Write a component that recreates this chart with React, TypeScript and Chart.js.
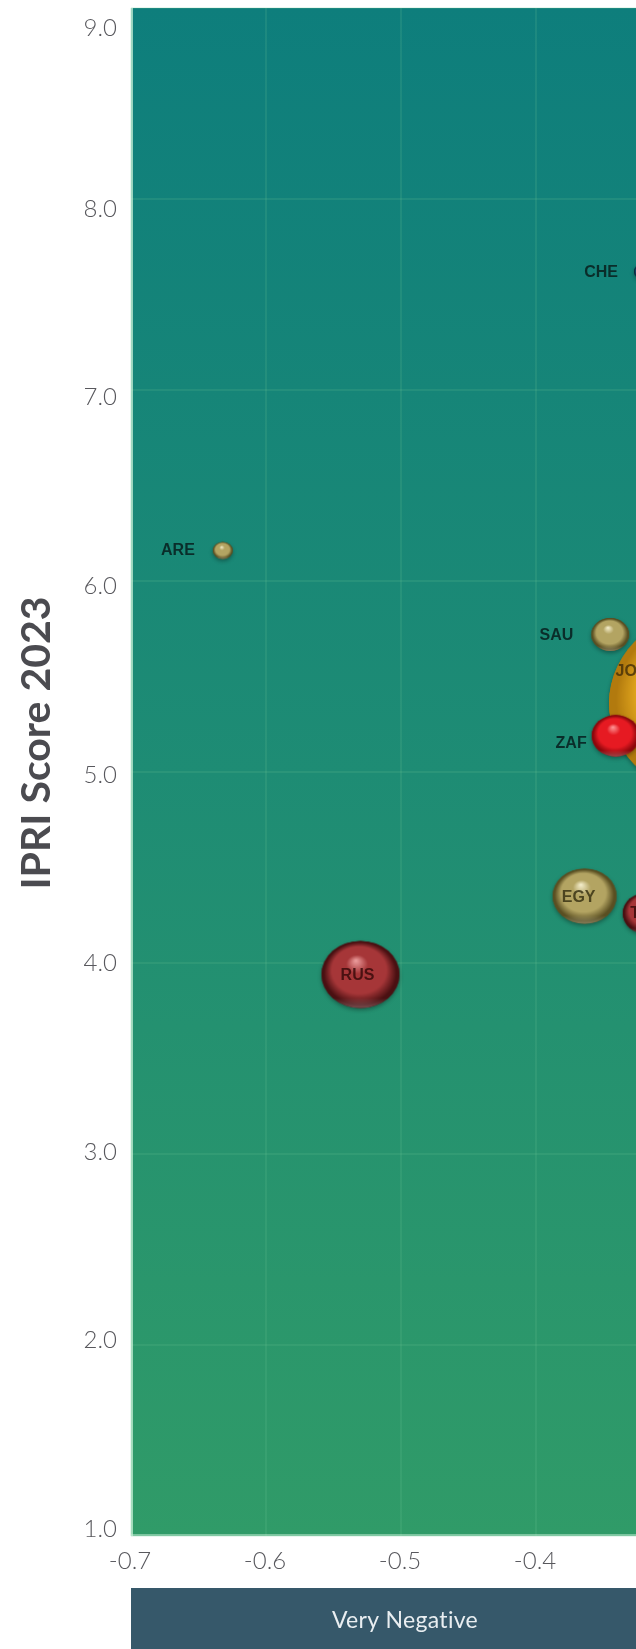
import React, { useEffect, useRef } from "react";
import { Chart, registerables } from "chart.js";

Chart.register(...registerables);

// ---- data ----
const countries = ["JOR", "ARE", "CHE", "SAU", "ZAF", "EGY", "TUR", "RUS"];
const perceptionScores = [-0.263, -0.632, -0.32, -0.345, -0.341, -0.364, -0.318, -0.53];
const ipriScores = [5.36, 6.16, 7.62, 5.72, 5.19, 4.35, 4.26, 3.94];
const bubbleRadius = [112, 10, 10, 19, 24, 32, 24, 39];
const regionGroup = ["jor", "gold", "blue", "gold", "red", "gold", "darkred", "darkred"];

const xMin = -0.7;
const xMax = -0.2;
const yMin = 1;
const yMax = 9;
const xStep = 0.1;
const yStep = 1;

const bandLabels = ["Very Negative"];
const bandFrom = [-0.7];
const bandTo = [-0.3];

const yTitle = "IPRI Score 2023";

// ---- styles ----
const palettes: Record<string, { light: string; base: string; dark: string; text: string }> = {
  gold: { light: "#f6f0cf", base: "#b3a462", dark: "#5a4f22", text: "#3a3414" },
  red: { light: "#ff9a9a", base: "#e61a22", dark: "#8c070c", text: "#3a0506" },
  darkred: { light: "#eea0a0", base: "#a63638", dark: "#4a1012", text: "#3a0a0b" },
  jor: { light: "#f8d870", base: "#e4a91f", dark: "#b27a0e", text: "#4a3308" },
  blue: { light: "#7fb0d6", base: "#1f5f8c", dark: "#0b2a40", text: "#0b2a2a" },
};
// label placement: [dx, dy, align, inside]
const labelPlacement: [number, number, CanvasTextAlign, boolean][] = [
  [-89, -32, "center", true],
  [-28, 0, "right", false],
  [-26, 1, "right", false],
  [-37, 1, "right", false],
  [-29, 8, "right", false],
  [-6, 1, "center", true],
  [0, 0, "center", true],
  [-3, 1, "center", true],
];
const ASPECT = 1.16;
const FONT_AXIS = "Lato, 'Open Sans', sans-serif";

function makeBall(rx: number, ry: number, pal: { light: string; base: string; dark: string }) {
  const pad = 6;
  const c = document.createElement("canvas");
  c.width = Math.ceil(2 * rx + 2 * pad);
  c.height = Math.ceil(2 * ry + 2 * pad);
  const g = c.getContext("2d")!;
  g.translate(c.width / 2, c.height / 2);
  g.save();
  g.shadowColor = "rgba(0,0,0,0.35)";
  g.shadowBlur = 4;
  g.shadowOffsetY = 2;
  g.beginPath();
  g.ellipse(0, 0, rx, ry, 0, 0, Math.PI * 2);
  g.fillStyle = pal.dark;
  g.fill();
  g.restore();
  g.save();
  g.scale(1, ry / rx);
  const grad = g.createRadialGradient(-0.12 * rx, -0.42 * rx, 0, 0, 0, rx);
  grad.addColorStop(0, pal.light);
  grad.addColorStop(0.28, pal.base);
  grad.addColorStop(0.7, pal.base);
  grad.addColorStop(0.93, pal.dark);
  grad.addColorStop(1, pal.dark);
  g.beginPath();
  g.arc(0, 0, rx, 0, Math.PI * 2);
  g.fillStyle = grad;
  g.fill();
  const rim = g.createLinearGradient(0, rx * 0.7, 0, rx);
  rim.addColorStop(0, "rgba(255,255,255,0)");
  rim.addColorStop(1, "rgba(255,255,255,0.25)");
  g.fillStyle = rim;
  g.fill();
  g.restore();
  return c;
}

export default function App() {
  const ref = useRef<HTMLCanvasElement>(null);

  useEffect(() => {
    document.body.style.margin = "0";
    const canvas = ref.current!;
    const images = bubbleRadius.map((r, i) => makeBall(r, r / ASPECT, palettes[regionGroup[i]]));

    const backgroundPlugin = {
      id: "bg",
      beforeDraw(chart: any) {
        const { ctx, chartArea: a } = chart;
        ctx.save();
        const grad = ctx.createLinearGradient(0, a.top, 0, a.bottom);
        grad.addColorStop(0, "#0e7e7c");
        grad.addColorStop(0.5, "#1e8c74");
        grad.addColorStop(1, "#309b68");
        ctx.fillStyle = grad;
        ctx.fillRect(a.left, a.top, a.right - a.left, a.bottom - a.top);
        ctx.restore();
      },
    };

    const labelsPlugin = {
      id: "bubbleLabels",
      afterDatasetsDraw(chart: any) {
        const { ctx } = chart;
        const meta = chart.getDatasetMeta(0);
        ctx.save();
        ctx.font = "bold 16px 'Liberation Sans', Arial, sans-serif";
        ctx.textBaseline = "middle";
        meta.data.forEach((el: any, i: number) => {
          const [dx, dy, align, inside] = labelPlacement[i];
          ctx.textAlign = align;
          ctx.fillStyle = inside ? palettes[regionGroup[i]].text : "#0a2826";
          ctx.globalAlpha = inside ? 0.85 : 0.95;
          ctx.fillText(countries[i], el.x + dx, el.y + dy);
        });
        ctx.restore();
      },
    };

    const axesPlugin = {
      id: "axesText",
      afterDraw(chart: any) {
        const { ctx, chartArea: a } = chart;
        const xs = chart.scales.x;
        const ys = chart.scales.y;
        ctx.save();
        ctx.strokeStyle = "rgba(200,240,215,0.75)";
        ctx.lineWidth = 2;
        ctx.beginPath();
        ctx.moveTo(a.left + 1, a.top);
        ctx.lineTo(a.left + 1, a.bottom);
        ctx.stroke();
        ctx.strokeStyle = "rgba(200,240,215,0.5)";
        ctx.beginPath();
        ctx.moveTo(a.left, a.bottom - 1);
        ctx.lineTo(a.right, a.bottom - 1);
        ctx.stroke();

        ctx.font = `300 24px ${FONT_AXIS}`;
        ctx.fillStyle = "#58585d";
        ctx.textAlign = "right";
        ctx.textBaseline = "middle";
        const y8 = ys.getPixelForValue(8);
        ys.ticks.forEach((t: any) => {
          const gy = ys.getPixelForValue(t.value);
          const ly = Math.max(28, 209 + (gy - y8) * (188.6 / 191));
          ctx.fillText(t.value.toFixed(1), 117, ly);
        });
        ctx.textAlign = "center";
        xs.ticks.forEach((t: any) => {
          const gx = xs.getPixelForValue(t.value);
          ctx.fillText(t.value.toFixed(1), gx - 1, 1561);
        });

        bandLabels.forEach((lab, i) => {
          const x0 = xs.getPixelForValue(bandFrom[i]);
          const x1 = xs.getPixelForValue(bandTo[i]);
          ctx.fillStyle = "#36586a";
          ctx.fillRect(x0, 1588, x1 - x0, chart.height - 1588);
          ctx.fillStyle = "#e9eef1";
          ctx.font = `23px ${FONT_AXIS}`;
          (ctx as any).letterSpacing = "0.3px";
          ctx.textAlign = "center";
          ctx.fillText(lab, (x0 + x1) / 2 + 4, 1621);
          (ctx as any).letterSpacing = "0px";
        });

        ctx.translate(37, 743);
        ctx.rotate(-Math.PI / 2);
        ctx.font = `bold 41px ${FONT_AXIS}`;
        ctx.fillStyle = "#4b4b50";
        ctx.textAlign = "center";
        ctx.textBaseline = "middle";
        ctx.fillText(yTitle, 0, 0);
        ctx.restore();
      },
    };

    const chart = new Chart(canvas, {
      type: "bubble",
      data: {
        datasets: [
          {
            data: countries.map((_, i) => ({ x: perceptionScores[i], y: ipriScores[i], r: bubbleRadius[i] })),
            pointStyle: (ctx: any) => images[ctx.dataIndex] as any,
            backgroundColor: "rgba(0,0,0,0)",
            borderWidth: 0,
            clip: false as any,
          },
        ],
      },
      options: {
        responsive: false,
        devicePixelRatio: 1,
        animation: false,
        events: [],
        layout: { autoPadding: false, padding: { left: 131, right: 10, top: 8, bottom: 113 } },
        plugins: { legend: { display: false }, tooltip: { enabled: false } },
        scales: {
          x: {
            type: "linear",
            min: xMin,
            max: xMax,
            ticks: { display: false, stepSize: xStep },
            grid: { color: "rgba(110,200,150,0.16)", lineWidth: 2, drawTicks: false },
            border: { display: false },
          },
          y: {
            type: "linear",
            min: yMin,
            max: yMax,
            ticks: { display: false, stepSize: yStep },
            grid: { color: "rgba(110,200,150,0.16)", lineWidth: 2, drawTicks: false },
            border: { display: false },
          },
        },
      },
      plugins: [backgroundPlugin, labelsPlugin, axesPlugin],
    } as any);
    return () => chart.destroy();
  }, []);

  return (
    <div
      style={{
        position: "fixed",
        left: 0,
        top: 0,
        width: 636,
        height: 1649,
        overflow: "hidden",
        background: "#fff",
      }}
    >
      <canvas ref={ref} width={816} height={1649} style={{ display: "block", width: 816, height: 1649 }} />
    </div>
  );
}
